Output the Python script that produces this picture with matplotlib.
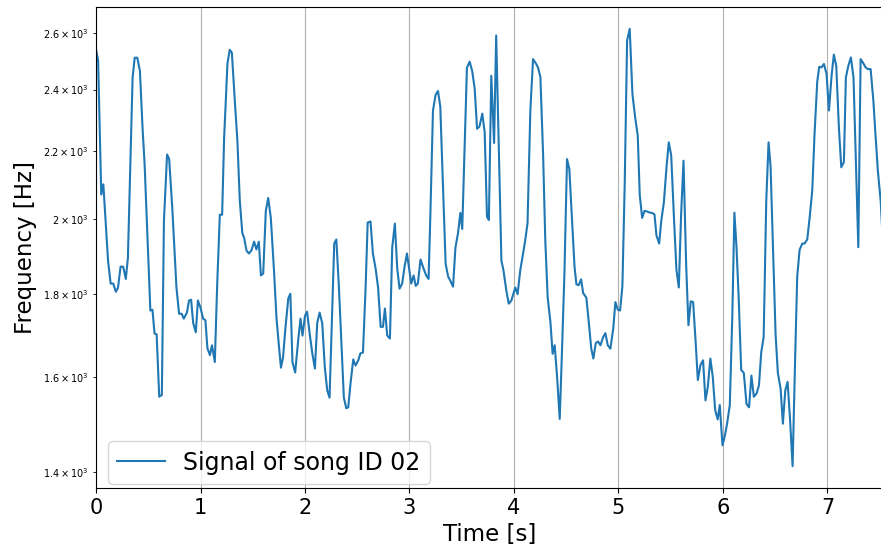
import numpy as np
import matplotlib
matplotlib.use('Agg')
import matplotlib.pyplot as plt

# Pitch track of song ID 02 (time in s, frequency in Hz)
times = [0.00, 0.02, 0.05, 0.07, 0.09, 0.115, 0.14, 0.165, 0.19, 0.21,
         0.235, 0.26, 0.285, 0.305, 0.35, 0.37, 0.395, 0.42, 0.445, 0.465,
         0.52, 0.54, 0.56, 0.58, 0.605, 0.63, 0.65, 0.68, 0.70, 0.73,
         0.77, 0.795, 0.82, 0.84, 0.87, 0.89, 0.91, 0.93, 0.955, 0.975,
         1.0, 1.025, 1.047, 1.066, 1.09, 1.11, 1.137, 1.16, 1.185, 1.207,
         1.226, 1.258, 1.28, 1.30, 1.33, 1.353, 1.376, 1.40, 1.418, 1.44,
         1.463, 1.487, 1.513, 1.535, 1.558, 1.578, 1.60, 1.625, 1.648, 1.673,
         1.705, 1.727, 1.75, 1.77, 1.79, 1.813, 1.84, 1.86, 1.88, 1.906,
         1.935, 1.957, 1.976, 2.0, 2.02, 2.043, 2.07, 2.095, 2.117, 2.14,
         2.165, 2.19, 2.213, 2.235, 2.26, 2.28, 2.30, 2.325, 2.35, 2.372,
         2.395, 2.414, 2.436, 2.462, 2.484, 2.51, 2.53, 2.555, 2.58, 2.60,
         2.627, 2.65, 2.676, 2.70, 2.724, 2.746, 2.765, 2.787, 2.813, 2.835,
         2.86, 2.883, 2.905, 2.93, 2.953, 2.976, 2.995, 3.017, 3.04, 3.06,
         3.08, 3.106, 3.135, 3.16, 3.183, 3.20, 3.225, 3.25, 3.273, 3.295,
         3.32, 3.346, 3.37, 3.39, 3.417, 3.44, 3.465, 3.487, 3.505, 3.528,
         3.55, 3.576, 3.60, 3.624, 3.647, 3.67, 3.697, 3.72, 3.742, 3.76,
         3.783, 3.81, 3.83, 3.857, 3.88, 3.90, 3.927, 3.95, 3.975, 4.013,
         4.035, 4.06, 4.087, 4.11, 4.13, 4.157, 4.183, 4.205, 4.23, 4.253,
         4.279, 4.30, 4.323, 4.349, 4.37, 4.39, 4.413, 4.438, 4.46, 4.483,
         4.508, 4.53, 4.556, 4.58, 4.598, 4.62, 4.643, 4.662, 4.693, 4.716,
         4.74, 4.76, 4.783, 4.805, 4.828, 4.853, 4.875, 4.898, 4.923, 4.95,
         4.971, 4.994, 5.016, 5.038, 5.06, 5.083, 5.108, 5.134, 5.16, 5.185,
         5.204, 5.227, 5.25, 5.275, 5.30, 5.323, 5.345, 5.364, 5.39, 5.41,
         5.435, 5.46, 5.482, 5.505, 5.53, 5.555, 5.578, 5.60, 5.623, 5.648,
         5.67, 5.692, 5.715, 5.738, 5.76, 5.785, 5.81, 5.833, 5.855, 5.88,
         5.903, 5.926, 5.95, 5.97, 5.996, 6.02, 6.04, 6.066, 6.09, 6.11,
         6.13, 6.152, 6.175, 6.2, 6.226, 6.25, 6.273, 6.296, 6.322, 6.345,
         6.367, 6.39, 6.415, 6.437, 6.456, 6.48, 6.504, 6.526, 6.552, 6.574,
         6.597, 6.619, 6.641, 6.667, 6.689, 6.711, 6.734, 6.76, 6.782, 6.807,
         6.83, 6.855, 6.877, 6.903, 6.922, 6.944, 6.967, 6.992, 7.015, 7.04,
         7.062, 7.085, 7.11, 7.133, 7.158, 7.177, 7.20, 7.225, 7.25, 7.273,
         7.296, 7.318, 7.34, 7.366, 7.388, 7.414, 7.44, 7.46, 7.483, 7.51,
         7.53]

freqs = [2540, 2500, 2070, 2100, 2000, 1886, 1826, 1826, 1805, 1815,
         1870, 1870, 1838, 1893, 2440, 2510, 2510, 2464, 2275, 2160,
         1758, 1760, 1702, 1700, 1557, 1561, 1995, 2190, 2176, 2030,
         1815, 1750, 1750, 1738, 1753, 1783, 1785, 1727, 1705, 1783,
         1765, 1738, 1734, 1667, 1651, 1674, 1635, 1826, 2012, 2012,
         2242, 2490, 2538, 2528, 2353, 2233, 2052, 1961, 1947, 1913,
         1905, 1913, 1937, 1916, 1937, 1847, 1852, 2023, 2060, 2003,
         1852, 1740, 1674, 1622, 1646, 1716, 1788, 1800, 1635, 1611,
         1686, 1738, 1697, 1745, 1755, 1705, 1655, 1620, 1727, 1753,
         1727, 1622, 1571, 1555, 1758, 1932, 1943, 1815, 1670, 1555,
         1532, 1534, 1587, 1641, 1627, 1639, 1655, 1657, 1815, 1990,
         1993, 1905, 1865, 1815, 1718, 1718, 1763, 1697, 1690, 1921,
         1987, 1865, 1813, 1826, 1870, 1905, 1868, 1826, 1847, 1820,
         1826, 1889, 1865, 1847, 1838, 2012, 2330, 2382, 2395, 2343,
         2100, 1878, 1844, 1834, 1818, 1921, 1961, 2017, 1972, 2211,
         2475, 2496, 2464, 2404, 2271, 2278, 2320, 2259, 2006, 1997,
         2447, 2226, 2590, 2190, 1886, 1860, 1808, 1775, 1783, 1816,
         1799, 1860, 1904, 1945, 1988, 2330, 2505, 2493, 2476, 2443,
         2190, 1940, 1790, 1730, 1654, 1674, 1601, 1509, 1662, 1851,
         2176, 2146, 1995, 1869, 1824, 1822, 1837, 1802, 1790, 1730,
         1666, 1643, 1679, 1683, 1674, 1693, 1703, 1674, 1666, 1713,
         1779, 1760, 1758, 1820, 2099, 2572, 2614, 2385, 2308, 2249,
         2069, 2003, 2023, 2021, 2018, 2017, 2013, 1954, 1932, 1995,
         2047, 2151, 2228, 2188, 2013, 1862, 1816, 2013, 2171, 1877,
         1722, 1781, 1779, 1686, 1594, 1628, 1639, 1549, 1578, 1643,
         1601, 1528, 1508, 1539, 1454, 1475, 1499, 1539, 1744, 2018,
         1922, 1783, 1617, 1610, 1541, 1534, 1604, 1557, 1564, 1582,
         1658, 1693, 2052, 2228, 2156, 1913, 1701, 1610, 1575, 1499,
         1571, 1590, 1514, 1412, 1620, 1843, 1915, 1932, 1932, 1943,
         2003, 2081, 2254, 2427, 2478, 2476, 2488, 2453, 2330, 2447,
         2521, 2481, 2275, 2151, 2167, 2441, 2481, 2511, 2441, 2161,
         1922, 2505, 2493, 2476, 2470, 2470, 2363, 2254, 2141, 2052,
         1940]

song_label = 'Signal of song ID 02'

fig = plt.figure(figsize=(8.81, 5.48), dpi=100)
ax = fig.add_axes([0.109, 0.1095, 0.893, 0.8777])

ax.plot(times, freqs, color='#1f77b4', linewidth=1.5, label=song_label)
ax.set_yscale('log')
ax.set_xlim(times[0], times[-1])

ax.set_xlabel('Time [s]', fontsize=16.5)
ax.set_ylabel('Frequency [Hz]', fontsize=16.5)
ax.tick_params(axis='x', labelsize=15)
ax.tick_params(axis='y', which='both', labelsize=7)
ax.grid(axis='x')

ax.legend(loc='lower left', fontsize=17, bbox_to_anchor=(0.0, -0.0165))

fig.savefig('out.png', dpi=100)
